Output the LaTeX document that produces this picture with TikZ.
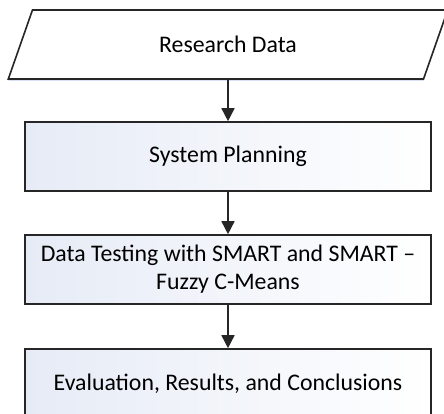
\documentclass[tikz,border=0pt]{standalone}
\usepackage{fontspec}
\setmainfont{Carlito}
\usetikzlibrary{shapes.geometric,arrows.meta,shadows}

\definecolor{boxfill}{RGB}{230,235,246}
\definecolor{boxline}{RGB}{38,38,38}
\definecolor{glow}{RGB}{190,205,235}

\begin{document}
\begin{tikzpicture}[x=1pt, y=1pt]
  \tikzset{
    font={\fontsize{23.8pt}{28pt}\selectfont},
    datashape/.style={trapezium, trapezium left angle=63, trapezium right angle=117,
      trapezium stretches, minimum width=440pt, minimum height=69pt,
      draw=boxline, line width=1.6pt, fill=white, inner sep=0pt,
      drop shadow={shadow xshift=0pt, shadow yshift=-2pt, fill=glow, opacity=.6}},
    stepbox/.style={rectangle, minimum width=406pt, minimum height=69pt,
      draw=boxline, line width=1.6pt, left color=boxfill, right color=white,
      align=center, inner sep=0pt},
    flow/.style={-{Triangle[width=13pt, length=13pt]}, line width=1.6pt, color=boxline},
  }

  \useasboundingbox (0,0) rectangle (444,-414);
  \clip (0,0) rectangle (444,-414);

  % input data
  \node[datashape] (data) at (228,-44.5) {Research Data};

  % process steps
  \node[stepbox] (plan) at (228,-156.5) {System Planning};
  \node[stepbox] (test) at (228,-269.5) {Data Testing with SMART and SMART --\\Fuzzy C-Means};
  \node[stepbox] (eval) at (228,-383.5) {Evaluation, Results, and Conclusions};

  \draw[flow] (data.south) -- (plan.north);
  \draw[flow] (plan.south) -- (test.north);
  \draw[flow] (test.south) -- (eval.north);

\end{tikzpicture}
\end{document}
